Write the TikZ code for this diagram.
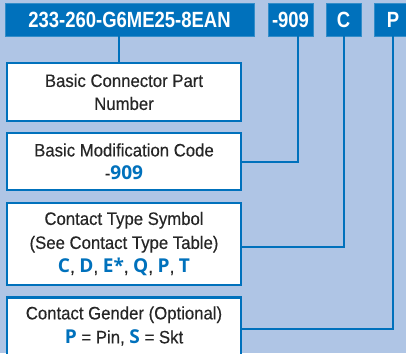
\documentclass[tikz,border=0pt]{standalone}
\usepackage{fontspec}
\setmainfont{Liberation Sans}[FakeStretch=0.93,FakeBold=0.35]
\newfontfamily\topfont{Liberation Sans}[FakeStretch=0.84]
\newfontfamily\hlfont{Open Sans}[Scale=1.06]
\definecolor{bg}{HTML}{AFC5E5}
\definecolor{dblue}{HTML}{0071BC}
\newcommand{\hl}[1]{{\hlfont\bfseries\color{dblue}#1}}
\begin{document}
\begin{tikzpicture}[x=1pt,y=-1pt,
  topbox/.style={fill=dblue,draw=dblue!80!white,line width=0.8pt,text=white,font=\topfont\bfseries\fontsize{22}{24}\selectfont,inner sep=0pt},
  infobox/.style={fill=white,draw=dblue,line width=2.6pt,align=center,font=\fontsize{18}{23}\selectfont,text=black!85,inner sep=0pt,minimum width=234pt},
  infotext/.style={align=center,font=\fontsize{18}{24}\selectfont,text=black!85,inner sep=0pt},
  conn/.style={draw=dblue,line width=2pt}]
\useasboundingbox (0,0) rectangle (406,353);
\fill[bg] (0,0) rectangle (406,353);
\begin{scope}
\clip (0,0) rectangle (406,353);
% top code boxes
\node[topbox,minimum width=249pt,minimum height=33pt] (t1) at (129.5,19.5) {233-260-G6ME25-8EAN};
\node[topbox,minimum width=45pt,minimum height=33pt] (t2) at (290.5,19.5) {-909};
\node[topbox,minimum width=35pt,minimum height=33pt] (t3) at (343.5,19.5) {C};
\node[topbox,minimum width=38pt,minimum height=33pt] (t4) at (393,19.5) {P};
% description boxes
\node[infobox,minimum height=58pt] (b1) at (124,92) {Basic Connector Part\\Number};
\node[infobox,minimum height=57pt] (b2) at (124,161.5) {Basic Modification Code\\-\hl{909}};
\node[infobox,minimum height=82pt,font=\fontsize{18}{24}\selectfont] (b3) at (124,244) {Contact Type Symbol\\(See Contact Type Table)\\\hl{C}, \hl{D}, \hl{E*}, \hl{Q}, \hl{P}, \hl{T}};
\node[infobox,minimum height=64pt,anchor=north] (b4) at (124,296) {};
\node[infotext] (b4t) at (124,326) {Contact Gender (Optional)\\\hl{P} = Pin, \hl{S} = Skt};
% connectors
\coordinate (c1) at ([xshift=-5pt]b1.north);
\draw[conn] (c1 |- t1.south) -- (c1);
\coordinate (c2) at ([xshift=7.5pt]t2.south);
\draw[conn] (c2) |- (b2.east);
\coordinate (c3) at ([yshift=-3pt]b3.east);
\draw[conn] (t3.south) |- (c3);
\draw[conn] (t4.south) |- (b4.east);
\end{scope}
\end{tikzpicture}
\end{document}
